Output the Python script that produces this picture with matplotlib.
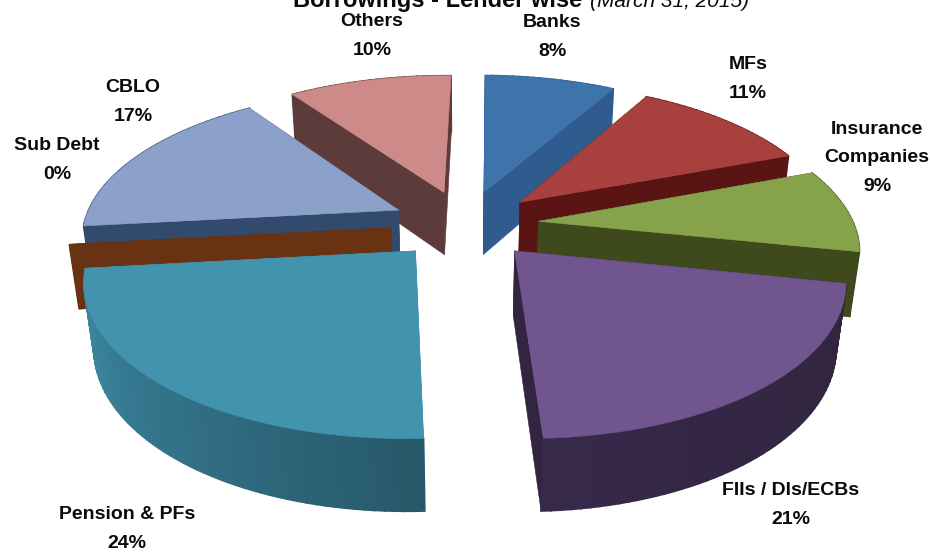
import numpy as np
import matplotlib
matplotlib.use("Agg")
import matplotlib.pyplot as plt
from matplotlib.colors import to_rgb
from matplotlib.patches import Polygon

# borrowings by lender, share in percent
lenders = ["Banks", "MFs", "Insurance\nCompanies", "FIIs / DIs/ECBs",
           "Pension & PFs", "Sub Debt", "CBLO", "Others"]
shares = [8, 11, 9, 21, 24, 0, 17, 10]

top_colors = ["#3F73AC", "#A8413D", "#86A34B", "#71558F", "#4193AE", "#7A3E18", "#8BA1C9", "#CC8B88"]
wall_colors = ["#2F5B8E", "#5A1414", "#3E4A1C", "#33253F", "#3C8AA4", "#693212", "#324A6C", "#5C3B3A"]
rim_light = ["#2F5B8E", "#5A1414", "#3E4A1C", "#36294A", "#3F8DA7", "#693212", "#324A6C", "#5C3B3A"]
rim_dark = ["#2F5B8E", "#5A1414", "#3E4A1C", "#31243C", "#27586A", "#693212", "#324A6C", "#5C3B3A"]

label_xy = [(552, 37), (748, 79), (877, 158), (791, 505),
            (127, 529), (57, 160), (133, 102), (372, 36)]

# pie geometry, the plot area is in pixels
CX, CY = 465, 224
SCALE_X, SCALE_Y = 315, 146
TILT = 0.168       # perspective strength towards the back
EXPLODE = 0.235
DEPTH = 65.5
DEPTH_W = 0.025    # the underside sits a bit further from the viewer
START_ANGLE = 0.9


def project(u, v, lower=False):
    w = 1 + TILT * v + (DEPTH_W if lower else 0)
    drop = DEPTH if lower else 0
    return CX + SCALE_X * u / w, CY - (SCALE_Y * v - drop) / w


def wall(u, v):
    # quad strip between the top edge and the bottom edge of a path
    upper = [project(a, b) for a, b in zip(u, v)]
    lower = [project(a, b, True) for a, b in zip(u, v)]
    return upper + lower[::-1]


def add_face(ax, pts, color, lw=0.4):
    ax.add_patch(Polygon(pts, closed=True, facecolor=color, edgecolor=color, linewidth=lw))


fig = plt.figure(figsize=(9.3, 5.53), dpi=100)
ax = fig.add_axes([0, 0, 1, 1])
ax.set_xlim(0, 930)
ax.set_ylim(553, 0)
ax.axis("off")

edges = np.radians(START_ANGLE + np.cumsum([0] + shares) * 3.6)
order = np.argsort([-np.cos((edges[i] + edges[i + 1]) / 2) for i in range(len(shares))], kind="stable")

for i in order:
    start, end = edges[i], edges[i + 1]
    mid = (start + end) / 2
    ax0, ay0 = EXPLODE * np.sin(mid), EXPLODE * np.cos(mid)
    theta = np.linspace(start, end, max(int(np.degrees(end - start) / 1.5), 1) + 1)
    rim_u = ax0 + np.sin(theta)
    rim_v = ay0 + np.cos(theta)

    # collect the side faces, then paint them from back to front
    faces = []
    for t_u, t_v in ((rim_u[0], rim_v[0]), (rim_u[-1], rim_v[-1])):
        faces.append(((ay0 + t_v) / 2, wall([ax0, t_u], [ay0, t_v]), wall_colors[i], 0.4))
    light, dark = np.array(to_rgb(rim_light[i])), np.array(to_rgb(rim_dark[i]))
    for k in range(len(theta) - 1):
        frac = k / max(len(theta) - 2, 1)
        # the rim gets darker going from the last edge to the first
        shade = dark + (light - dark) * frac
        faces.append((rim_v[k:k + 2].mean(), wall(rim_u[k:k + 2], rim_v[k:k + 2]), shade, 1.2))
    for _, pts, color, lw in sorted(faces, key=lambda f: -f[0]):
        add_face(ax, pts, color, lw)

    if shares[i] > 0:
        top = [project(ax0, ay0)] + [project(a, b) for a, b in zip(rim_u, rim_v)]
        add_face(ax, top, top_colors[i])

bold_font = ["Liberation Sans Narrow", "Liberation Sans"]
for name, share, (x, y) in zip(lenders, shares, label_xy):
    ax.text(x, y, f"{name}\n{share}%", ha="center", va="center", fontsize=14,
            fontweight="bold", family=bold_font, linespacing=1.88, color="#0A0A0A")

ax.text(293, 7, "Borrowings - Lender wise", ha="left", va="baseline", fontsize=17,
        fontweight="bold", family=bold_font, color="#0A0A0A", clip_on=True)
ax.text(590, 7, "(March 31, 2015)", ha="left", va="baseline", fontsize=15,
        style="italic", family=bold_font, color="#0A0A0A", clip_on=True)

fig.savefig("out.png", dpi=100)
